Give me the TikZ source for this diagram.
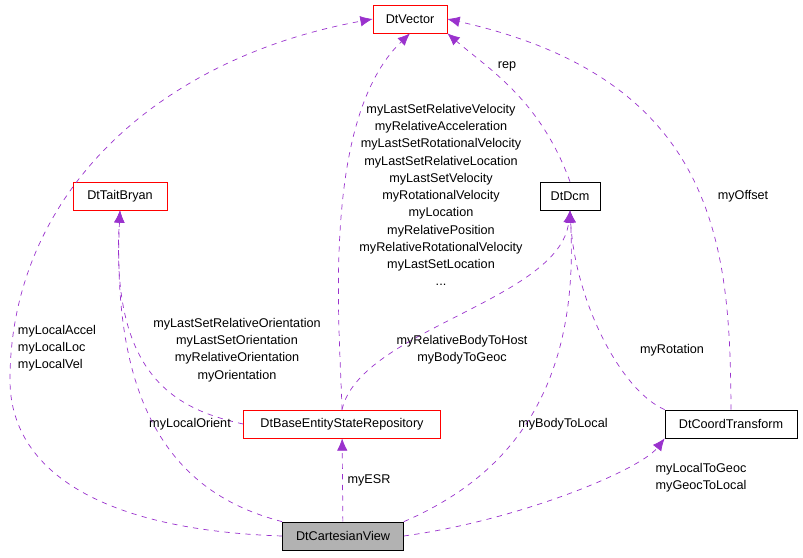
\documentclass[tikz,border=0pt]{standalone}
\usepackage{fontspec}
\setmainfont{Liberation Sans}
\usetikzlibrary{arrows.meta}
\definecolor{edgecol}{HTML}{9A32CD}
\tikzstyle{cls} = [draw, rectangle, fill=white, inner sep=0pt,
                   minimum height=28*0.02cm, text centered]
\tikzstyle{bad}  = [cls, draw=red]
\tikzstyle{good} = [cls, draw=black]
\tikzstyle{self} = [cls, draw=black, fill=gray!60]
\tikzstyle{dep} = [draw=edgecol, dashed, -{Latex[length=7pt,width=6pt]}]
\tikzstyle{lbl} = [align=center, font=\fontsize{7.2}{9.8}\selectfont]

\begin{document}
\begin{tikzpicture}[x=0.02cm, y=-0.02cm, font=\fontsize{7.2}{9.8}\selectfont]

% background
\useasboundingbox (0,0) rectangle (803,557);

% add nodes
\node [bad, minimum width=94*0.02cm]  (tb)  at (120,196) {DtTaitBryan};
\node [good, minimum width=60*0.02cm] (dcm) at (570,196) {DtDcm};
\node [bad, minimum width=197*0.02cm] (esr) at (342,424) {DtBaseEntityStateRepository};
\node [good, minimum width=132*0.02cm] (ct) at (731,424) {DtCoordTransform};
\node [self, minimum width=121*0.02cm] (cv) at (343,536) {DtCartesianView};
\node [bad, minimum width=74*0.02cm]  (dtvector) at (410,19) {DtVector};

% add connections
\draw[dep] (cv.west) .. controls (100,530) and (10,470) .. (10,380)
  .. controls (10,200) and (150,60) .. (dtvector.west);
\draw[dep] (cv.north west) .. controls (200,500) and (110,440) .. (tb.south);
\draw[dep] (cv) -- (esr);
\draw[dep] (cv.north east) .. controls (500,480) and (580,400) .. (dcm.south);
\draw[dep] (cv.east) .. controls (520,520) and (640,470) .. (ct.south west);
\draw[dep] (esr.north) .. controls (340,330) and (320,120) .. (dtvector.south);
\draw[dep] (esr.west) .. controls (180,410) and (110,380) .. (tb.south);
\draw[dep] (esr.north) .. controls (360,330) and (560,300) .. (dcm.south);
\draw[dep] (dcm.north) .. controls (540,100) and (490,70) .. (dtvector.south east);
\draw[dep] (ct.north west) .. controls (620,390) and (575,300) .. (dcm.south);
\draw[dep] (ct.north) .. controls (730,250) and (720,80) .. (dtvector.east);

% labels
\node[lbl, align=left] at (57,348) {myLocalAccel\\myLocalLoc\\myLocalVel};
\node[lbl] at (190,424) {myLocalOrient};
\node[lbl] at (369,480) {myESR};
\node[lbl] at (563,424) {myBodyToLocal};
\node[lbl] at (701,478) {myLocalToGeoc\\myGeocToLocal};
\node[lbl] at (441,195) {myLastSetRelativeVelocity\\myRelativeAcceleration\\
  myLastSetRotationalVelocity\\myLastSetRelativeLocation\\myLastSetVelocity\\
  myRotationalVelocity\\myLocation\\myRelativePosition\\
  myRelativeRotationalVelocity\\myLastSetLocation\\...};
\node[lbl] at (237,350) {myLastSetRelativeOrientation\\myLastSetOrientation\\
  myRelativeOrientation\\myOrientation};
\node[lbl] at (462,350) {myRelativeBodyToHost\\myBodyToGeoc};
\node[lbl] at (507,66) {rep};
\node[lbl] at (672,350) {myRotation};
\node[lbl] at (743,196) {myOffset};

\end{tikzpicture}
\end{document}
